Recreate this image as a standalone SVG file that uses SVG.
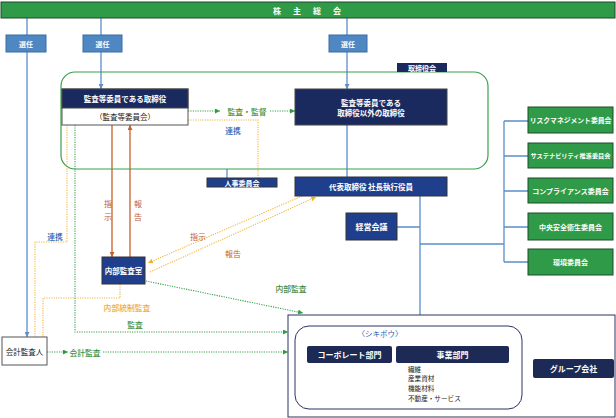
<svg xmlns="http://www.w3.org/2000/svg" width="616" height="418" viewBox="0 0 616 418">
<style>
text{font-family:"Noto Sans CJK JP","Noto Sans",sans-serif;text-anchor:middle;dominant-baseline:central}
.w{fill:#fff;font-weight:bold}
.k{fill:#222}
.nv{fill:#1b2a5e;stroke:#444;stroke-width:1}
.bl{fill:#1f3f8c;stroke:#333;stroke-width:1}
.gr{fill:#2f9b48;stroke:#1e4a2a;stroke-width:1}
.sel{fill:#4f87c2;stroke:#3a6ea5;stroke-width:1}
.lb{stroke:#5b8fc9;stroke-width:1.3;fill:none}
.lg{stroke:#3aa04a;stroke-width:1.1;fill:none;stroke-dasharray:1.2 1.2}
.lo{stroke:#f3b53a;stroke-width:1.1;fill:none;stroke-dasharray:1.2 1.2}
.lr{stroke:#c4622c;stroke-width:1.3;fill:none}
.lt{font-size:7.8px;font-weight:500}
</style>
<defs>
<marker id="ab" viewBox="0 0 6 6" refX="6" refY="3" markerWidth="5" markerHeight="5" orient="auto" markerUnits="userSpaceOnUse"><path d="M0,0L6,3L0,6z" fill="#5b8fc9"/></marker>
<marker id="ag" viewBox="0 0 6 6" refX="6" refY="3" markerWidth="5" markerHeight="5" orient="auto" markerUnits="userSpaceOnUse"><path d="M0,0L6,3L0,6z" fill="#2f9b40"/></marker>
<marker id="ao" viewBox="0 0 6 6" refX="6" refY="3" markerWidth="5" markerHeight="5" orient="auto" markerUnits="userSpaceOnUse"><path d="M0,0L6,3L0,6z" fill="#f0b030"/></marker>
<marker id="ar" viewBox="0 0 6 6" refX="6" refY="3" markerWidth="5" markerHeight="5" orient="auto" markerUnits="userSpaceOnUse"><path d="M0,0L6,3L0,6z" fill="#c4622c"/></marker>
</defs>
<rect width="616" height="418" fill="#fff"/>

<g id="connectors">
<path class="lb" d="M27,18V35M101,18V35M347,18V35"/>
<path class="lb" d="M27,52V337" marker-end="url(#ab)"/>
<path class="lb" d="M101,52V89" marker-end="url(#ab)"/>
<path class="lb" d="M347,52V89" marker-end="url(#ab)"/>
<path class="lb" d="M347,125V177"/>
<path class="lb" d="M227,169V178"/>
<path class="lb" d="M420,196V315M397,227H420M420,244H504M504,121V262M504,121H528M504,156H528M504,191H528M504,227H528M504,262H528"/>
<path class="lg" d="M188,111H220" marker-end="url(#ag)"/>
<path class="lg" d="M270,111H295" marker-end="url(#ag)"/>
<path class="lo" d="M188,120H258V178"/>
<path class="lo" d="M67,125V242H35V337"/>
<path class="lg" d="M75,125V332H288" marker-end="url(#ag)"/>
<path class="lo" d="M120,284V298H43V337"/>
<path class="lg" d="M146,281L303,313" marker-end="url(#ag)"/>
<path class="lr" d="M112,125V257" marker-end="url(#ar)"/>
<path class="lr" d="M130,257V125" marker-end="url(#ar)"/>
<path class="lo" d="M302,196L148,263" marker-end="url(#ao)"/>
<path class="lo" d="M150,272L316,197" marker-end="url(#ao)"/>
<path class="lg" d="M47,352H68" marker-end="url(#ag)"/>
<path class="lg" d="M103,352H288" marker-end="url(#ag)"/>
</g>

<g id="labels">
<text x="247" y="111" class="lt" fill="#3f8f3a" font-weight="bold">監査・監督</text>
<text x="233" y="130" class="lt" fill="#2a5aa8">連携</text>
<text x="55" y="236" class="lt" fill="#2a5aa8">連携</text>
<text x="108" y="203" font-size="8" fill="#c4622c">指</text>
<text x="108" y="216" font-size="8" fill="#c4622c">示</text>
<text x="138" y="203" font-size="8" fill="#c4622c">報</text>
<text x="138" y="216" font-size="8" fill="#c4622c">告</text>
<text x="198" y="236" font-size="8" fill="#c4622c">指示</text>
<text x="233" y="253" font-size="8" fill="#c4622c">報告</text>
<text x="291" y="288" class="lt" fill="#4a8a3a">内部監査</text>
<text x="127" y="307" class="lt" fill="#f0b030">内部統制監査</text>
<text x="135" y="324" class="lt" fill="#3f8f3a">監査</text>
<text x="85" y="352" class="lt" fill="#3f8f3a">会計監査</text>
</g>

<g id="agm"><rect x="1" y="2" width="614" height="16" class="gr"/><text x="313" y="10" font-size="8" class="w" letter-spacing="12">株主総会</text></g>
<g id="sel1"><rect x="6" y="35" width="40" height="17" class="sel"/><text x="26" y="43.5" font-size="7" class="w">選任</text></g>
<g id="sel2"><rect x="83" y="35" width="39" height="17" class="sel"/><text x="102.5" y="43.5" font-size="7" class="w">選任</text></g>
<g id="sel3"><rect x="329" y="35" width="38" height="17" class="sel"/><text x="348" y="43.5" font-size="7" class="w">選任</text></g>

<g id="board"><rect x="61" y="72" width="427" height="97" rx="14" fill="none" stroke="#3aa04a" stroke-width="1.2"/><rect x="397" y="63" width="50" height="9" fill="#1b2a5e"/><text x="422" y="67.5" font-size="7" class="w">取締役会</text></g>

<g id="audit-directors"><rect x="62" y="89" width="126" height="36" fill="#fff" stroke="#555" stroke-width="1"/><rect x="62" y="89" width="126" height="19" class="nv"/><text x="125" y="98.5" font-size="7.5" class="w">監査等委員である取締役</text><text x="125" y="116.5" font-size="7.5" class="k">（監査等委員会）</text></g>

<g id="other-directors"><rect x="295" y="89" width="152" height="36" class="nv"/><text x="371" y="102" font-size="7.5" class="w">監査等委員である</text><text x="371" y="112" font-size="7.5" class="w">取締役以外の取締役</text></g>

<g id="hr"><rect x="207" y="178" width="70" height="9" class="bl"/><text x="242" y="182.5" font-size="7" class="w">人事委員会</text></g>

<g id="ceo"><rect x="295" y="177" width="152" height="19" class="bl"/><text x="371" y="186.5" font-size="7.5" class="w">代表取締役 社長執行役員</text></g>

<g id="mgmt"><rect x="346" y="213" width="51" height="27" class="bl"/><text x="371.5" y="226.5" font-size="8" class="w">経営会議</text></g>

<g id="internal-audit"><rect x="102" y="257" width="43" height="27" class="bl"/><text x="123.5" y="270.5" font-size="7.5" class="w">内部監査室</text></g>

<g id="accountant"><rect x="2" y="337" width="45" height="28" fill="#fff" stroke="#555" stroke-width="1"/><text x="24.5" y="351" font-size="7.5" class="k">会計監査人</text></g>

<g id="c1"><rect x="528" y="107" width="85" height="26" class="gr"/><text x="570.5" y="120" font-size="6.8" class="w">リスクマネジメント委員会</text></g>
<g id="c2"><rect x="528" y="143" width="85" height="25" class="gr"/><text x="570.5" y="155.5" font-size="6.2" class="w">サステナビリティ推進委員会</text></g>
<g id="c3"><rect x="528" y="178" width="85" height="25" class="gr"/><text x="570.5" y="190.5" font-size="7" class="w">コンプライアンス委員会</text></g>
<g id="c4"><rect x="528" y="213" width="85" height="27" class="gr"/><text x="570.5" y="226.5" font-size="7" class="w">中央安全衛生委員会</text></g>
<g id="c5"><rect x="528" y="249" width="85" height="26" class="gr"/><text x="570.5" y="262" font-size="7" class="w">環境委員会</text></g>

<g id="group"><rect x="288" y="315" width="327" height="102" fill="none" stroke="#2a3560" stroke-width="1"/>
<rect x="295" y="326" width="227" height="83" rx="14" fill="none" stroke="#2a3560" stroke-width="1"/>
<text x="380" y="333" font-size="7.5" fill="#2f57b0">〈シキボウ〉</text></g>
<g id="corporate"><rect x="307" y="346" width="85" height="17" rx="2" fill="#1c2a55"/><text x="349.5" y="354.5" font-size="8" class="w">コーポレート部門</text></g>
<g id="business"><rect x="396" y="346" width="113" height="17" rx="2" fill="#1c2a55"/><text x="452.5" y="354.5" font-size="8" class="w">事業部門</text>
<g font-size="6.6" fill="#222"><text x="408" y="368.5" style="text-anchor:start">繊維</text><text x="408" y="378.2" style="text-anchor:start">産業資材</text><text x="408" y="387.9" style="text-anchor:start">機能材料</text><text x="408" y="397.6" style="text-anchor:start">不動産・サービス</text></g></g>
<g id="subsidiaries"><rect x="533" y="359" width="81" height="19" rx="2" fill="#1c2a55"/><text x="573.5" y="368.5" font-size="8" class="w">グループ会社</text></g>
</svg>
